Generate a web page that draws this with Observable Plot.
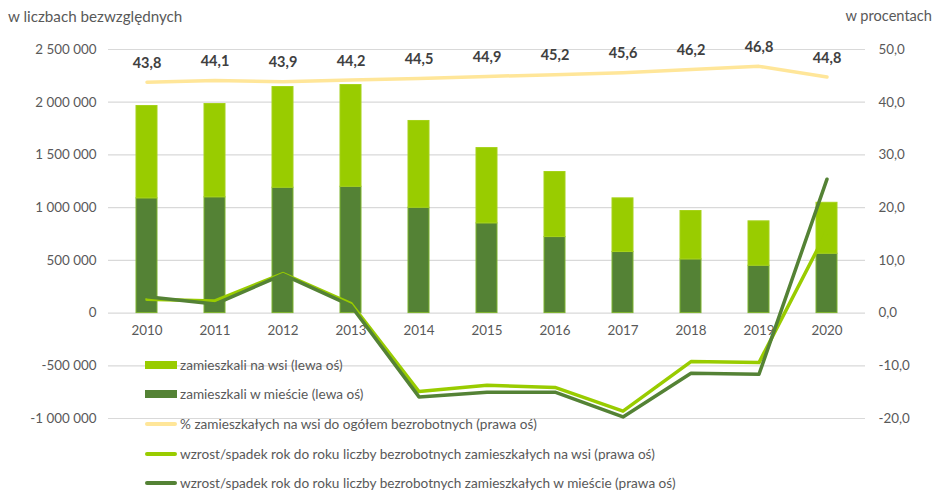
<!DOCTYPE html>
<html>
<head>
<meta charset="utf-8">
<script src="https://cdn.jsdelivr.net/npm/d3@7"></script>
<script src="https://cdn.jsdelivr.net/npm/@observablehq/plot@0.6"></script>
<style>
  html, body { margin: 0; padding: 0; background: #fff; }
  #wrap { position: relative; width: 935px; height: 490px; font-family: Lato, "Open Sans", sans-serif; }
  .atitle { position: absolute; font-size: 15.2px; color: #595959; white-space: nowrap; }
  .leg { position: absolute; left: 145px; height: 20px; display: flex; align-items: center; font-size: 13.6px; color: #595959; white-space: nowrap; }
  .sw { width: 32px; margin-right: 3px; }
</style>
</head>
<body>
<div id="wrap">
  <div id="chart"></div>
  <div class="atitle" style="left:8px; top:7px;">w liczbach bezwzględnych</div>
  <div class="atitle" style="right:3px; top:7px; font-size:14.6px;">w procentach</div>
  <div id="legend"></div>
</div>
<script>
// ---- data ----
const years = ["2010","2011","2012","2013","2014","2015","2016","2017","2018","2019","2020"];
const urban = [1088000,1098000,1189000,1198000,999000,851000,721000,579000,509000,449000,563000];
const rural = [876000,885000,955000,965000,823000,714000,617000,509000,459000,421000,483000];
const ruralShare = [43.8,44.1,43.9,44.2,44.5,44.9,45.2,45.6,46.2,46.8,44.8];
const ruralChange = [2.6,2.3,7.5,1.8,-14.9,-13.7,-14.1,-18.6,-9.2,-9.4,15.6];
const urbanChange = [3.1,1.7,7.3,1.4,-15.9,-15.0,-15.0,-19.7,-11.4,-11.6,25.4];
const leftTicks = [-1000000,-500000,0,500000,1000000,1500000,2000000,2500000];
const seriesNames = [
  "zamieszkali na wsi (lewa oś)",
  "zamieszkali w mieście (lewa oś)",
  "% zamieszkałych na wsi do ogółem bezrobotnych (prawa oś)",
  "wzrost/spadek rok do roku liczby bezrobotnych zamieszkałych na wsi (prawa oś)",
  "wzrost/spadek rok do roku liczby bezrobotnych zamieszkałych w mieście (prawa oś)"
];
const colors = ["#99CC00","#548235","#FFE699","#99CC00","#548235"];

// right axis (percent) maps onto left axis: 10 pp = 500 000
const K = 50000;

const bars = [];
years.forEach((y,i) => {
  bars.push({year: y, type: "urban", value: urban[i]});
  bars.push({year: y, type: "rural", value: rural[i]});
});
const share = years.map((y,i) => ({year: y, v: ruralShare[i]}));
const rc = years.map((y,i) => ({year: y, v: ruralChange[i]}));
const uc = years.map((y,i) => ({year: y, v: urbanChange[i]}));

const loc = d3.formatLocale({decimal: ",", thousands: "\u00a0", grouping: [3], currency: ["",""], minus: "-"});
const fmtLeft = loc.format(",");
const fmtPct = v => loc.format(".1f")(v);

const chart = Plot.plot({
  width: 935,
  height: 490,
  marginTop: 49,
  marginBottom: 72,
  marginLeft: 108,
  marginRight: 70,
  style: {fontFamily: "Lato, 'Open Sans', sans-serif", fontSize: "13px", color: "#595959", background: "transparent"},
  x: {domain: years, paddingInner: 0.69, paddingOuter: 0.345, align: 0.5, axis: null},
  y: {domain: [-1000000, 2500000], axis: null},
  color: {domain: ["urban","rural"], range: ["#548235","#99CC00"]},
  marks: [
    Plot.ruleY(leftTicks, {stroke: "#d9d9d9", strokeWidth: 1.2}),
    Plot.axisY({anchor: "left", ticks: leftTicks, tickSize: 0, tickPadding: 12, tickFormat: fmtLeft, label: null, fontSize: 13.4}),
    Plot.axisY({anchor: "right", ticks: leftTicks, tickSize: 0, tickPadding: 13, tickFormat: d => fmtPct(d / K), label: null, fontSize: 13.4}),
    Plot.barY(bars, Plot.stackY({x: "year", y: "value", fill: "type", stroke: d => d.type === "urban" ? "#7DB32E" : "#A6D21A", strokeWidth: 1})),
    Plot.text(years, {x: d => d, y: 0, dy: 18, text: d => d, fill: "#595959", fontSize: 13.4}),
    // rural share line (right axis)
    Plot.line(share, {x: "year", y: d => d.v * K, stroke: "#FFE699", strokeWidth: 3.5}),
    Plot.text(share, {x: "year", y: d => d.v * K, dy: -19, text: d => fmtPct(d.v), fontWeight: "bold", fontSize: 14.5, fill: "#404040"}),
    // change lines (right axis)
    Plot.line(rc, {x: "year", y: d => d.v * K, stroke: "#99CC00", strokeWidth: 3.5}),
    Plot.line(uc, {x: "year", y: d => d.v * K, stroke: "#548235", strokeWidth: 3.5})
  ]
});
document.getElementById("chart").appendChild(chart);

// legend overlaid in the lower part of the chart
const legTops = [355, 384, 414, 444, 473];
const legend = document.getElementById("legend");
seriesNames.forEach((name, i) => {
  const row = document.createElement("div");
  row.className = "leg";
  row.style.top = legTops[i] + "px";
  const sw = document.createElement("div");
  sw.className = "sw";
  sw.style.background = colors[i];
  sw.style.height = i < 2 ? "8px" : "4px";
  sw.style.borderRadius = i < 2 ? "0" : "2px";
  row.appendChild(sw);
  const t = document.createElement("span");
  t.textContent = name;
  row.appendChild(t);
  legend.appendChild(row);
});
</script>
</body>
</html>
